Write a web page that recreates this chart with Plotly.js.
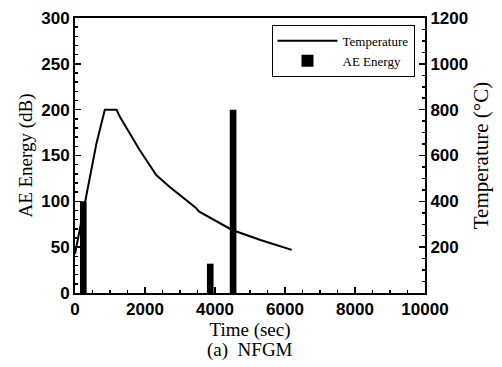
<!DOCTYPE html>
<html>
<head>
<meta charset="utf-8">
<script src="https://cdn.plot.ly/plotly-3.0.1.min.js"></script>
<style>html,body{margin:0;padding:0;background:#fff;}#chart{width:502px;height:367px;}</style>
</head>
<body>
<div id="chart"></div>
<script>
// Temperature curve (right axis, °C)
const timeSec = [0, 284, 616, 852, 1185, 1278, 1847, 2321, 2700, 3457, 3551, 4489, 5300, 6193];
const tempC   = [170, 393, 655, 800, 800, 770, 624, 515, 464, 371, 355, 275, 231, 188];
// AE energy bars (left axis, dB)
const aeTime   = [237, 3864, 4517];
const aeEnergy = [100, 32, 200];
// Tick labels
const xTicks = [0, 2000, 4000, 6000, 8000, 10000];
const yTicks = [0, 50, 100, 150, 200, 250, 300];
const y2Ticks = [200, 400, 600, 800, 1000, 1200];

const tickFont = {family: 'Liberation Sans, Arial, sans-serif', size: 17, weight: 'bold', color: '#000'};
const titleFont = {family: 'Liberation Serif, Times New Roman, serif', size: 19, color: '#000'};

const traces = [
  {x: timeSec, y: tempC, type: 'scatter', mode: 'lines', name: 'Temperature', yaxis: 'y2',
   line: {color: '#000', width: 2}},
  {x: aeTime, y: aeEnergy, type: 'bar', name: 'AE Energy', width: 190, yaxis: 'y',
   marker: {color: '#000', line: {width: 0}}}
];

const layout = {
  width: 502, height: 367,
  margin: {l: 75, r: 77, t: 18, b: 74},
  paper_bgcolor: '#fff', plot_bgcolor: '#fff',
  showlegend: true,
  legend: {x: 0.97, y: 0.975, xanchor: 'right', yanchor: 'top', bgcolor: '#fff',
           bordercolor: '#000', borderwidth: 1, itemwidth: 60,
           font: {family: 'Liberation Serif, Times New Roman, serif', size: 13, color: '#000'},
           tracegroupgap: 0},
  xaxis: {range: [0, 10000], tickvals: xTicks, ticktext: xTicks.map(String),
          showgrid: false, zeroline: false, showline: true, linecolor: '#000', linewidth: 2,
          mirror: true, ticks: 'inside', ticklen: 6, tickwidth: 1.5, tickcolor: '#000',
          minor: {dtick: 500, ticks: 'inside', ticklen: 3, tickcolor: '#000'},
          tickfont: tickFont,
          title: {text: 'Time (sec)', font: titleFont, standoff: 0}},
  yaxis: {range: [0, 300], tickvals: yTicks, ticktext: yTicks.map(String),
          showgrid: false, zeroline: false, showline: true, linecolor: '#000', linewidth: 2,
          ticks: 'inside', ticklen: 6, tickwidth: 1.5, tickcolor: '#000',
          minor: {dtick: 10, ticks: 'inside', ticklen: 3, tickcolor: '#000'},
          tickfont: tickFont,
          title: {text: 'AE Energy (dB)', font: titleFont, standoff: 4}},
  yaxis2: {range: [0, 1200], overlaying: 'y', side: 'right', tickvals: y2Ticks, ticktext: y2Ticks.map(String),
           showgrid: false, zeroline: false, showline: true, linecolor: '#000', linewidth: 2,
           ticks: 'inside', ticklen: 6, tickwidth: 1.5, tickcolor: '#000',
           minor: {dtick: 50, ticks: 'inside', ticklen: 3, tickcolor: '#000'},
           tickfont: tickFont,
           title: {text: 'Temperature (°C)', font: {family: 'Liberation Serif, Times New Roman, serif', size: 21, color: '#000'}, standoff: 6}},
  annotations: [
    {text: '(a)\u00a0\u00a0NFGM', xref: 'paper', yref: 'paper', x: 0.5, y: -0.207, xanchor: 'center', yanchor: 'middle',
     showarrow: false, font: {family: 'Liberation Serif, Times New Roman, serif', size: 19, color: '#000'}}
  ]
};

Plotly.newPlot('chart', traces, layout, {displayModeBar: false, staticPlot: true});
</script>
</body>
</html>
